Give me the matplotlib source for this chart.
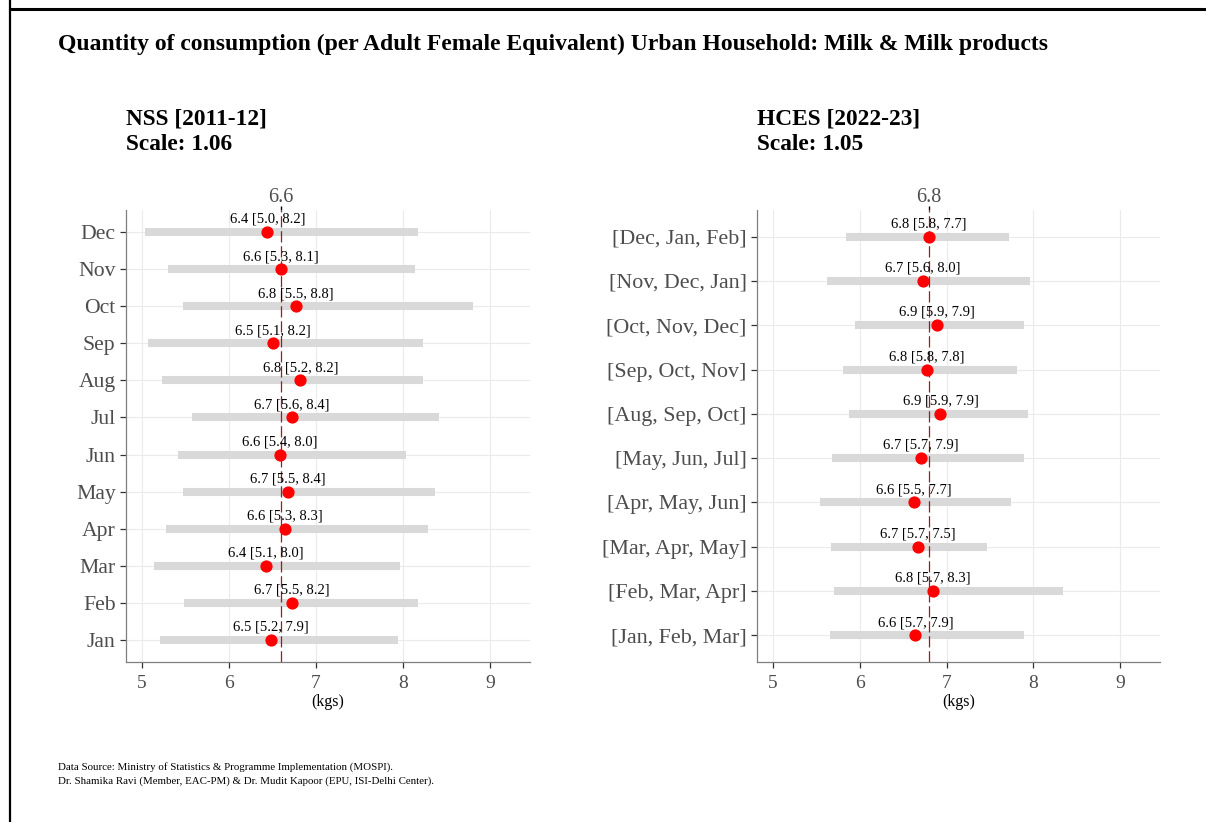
import numpy as np
import matplotlib.pyplot as plt
from matplotlib.lines import Line2D

plt.rcParams['font.family'] = ['Liberation Serif', 'DejaVu Serif']

# NSS 2011-12, monthly (bottom row first)
nss_months = ['Jan', 'Feb', 'Mar', 'Apr', 'May', 'Jun', 'Jul', 'Aug', 'Sep', 'Oct', 'Nov', 'Dec']
nss_mean = [6.48, 6.72, 6.42, 6.64, 6.68, 6.58, 6.72, 6.82, 6.50, 6.77, 6.60, 6.44]
nss_lo = [5.21, 5.48, 5.14, 5.27, 5.47, 5.41, 5.57, 5.23, 5.07, 5.47, 5.30, 5.03]
nss_hi = [7.94, 8.17, 7.96, 8.29, 8.37, 8.03, 8.41, 8.23, 8.23, 8.81, 8.14, 8.17]
nss_overall = 6.6

# HCES 2022-23, three-month windows (bottom row first)
hces_seasons = ['[Jan, Feb, Mar]', '[Feb, Mar, Apr]', '[Mar, Apr, May]', '[Apr, May, Jun]',
                '[May, Jun, Jul]', '[Aug, Sep, Oct]', '[Sep, Oct, Nov]', '[Oct, Nov, Dec]',
                '[Nov, Dec, Jan]', '[Dec, Jan, Feb]']
hces_mean = [6.64, 6.84, 6.67, 6.62, 6.70, 6.93, 6.77, 6.89, 6.73, 6.80]
hces_lo = [5.66, 5.70, 5.67, 5.54, 5.68, 5.87, 5.81, 5.94, 5.62, 5.84]
hces_hi = [7.89, 8.34, 7.47, 7.74, 7.89, 7.94, 7.81, 7.89, 7.96, 7.72]
hces_overall = 6.8

x_ticks = [5, 6, 7, 8, 9]


def draw_panel(ax, cats, mean, lo, hi, overall, ylabsize):
    y = np.arange(1, len(cats) + 1)
    ax.hlines(y, lo, hi, color='#D9D9D9', lw=5.8, capstyle='butt', zorder=2)
    ax.axvline(overall, color='#A51818', lw=0.9, ls=(0, (9, 3)), zorder=3)
    ax.plot(mean, y, 'o', color='red', ms=7.8, zorder=4)
    for m, l, h, yi in zip(mean, lo, hi, y):
        ax.annotate(f'{m:.1f} [{l:.1f}, {h:.1f}]', (m, yi), xytext=(0, 4.5),
                    textcoords='offset points', ha='center', va='bottom',
                    fontsize=10.5, color='black', zorder=5)

    ax.set_yticks(y, cats)
    ax.set_ylim(0.4, len(cats) + 0.6)
    ax.set_xlim(4.815, 9.46)
    ax.set_xticks(x_ticks)
    ax.grid(color='#EBEBEB', lw=0.8)
    ax.set_axisbelow(True)
    for side in ['top', 'right']:
        ax.spines[side].set_visible(False)
    for side in ['left', 'bottom']:
        ax.spines[side].set_color('#7F7F7F')
        ax.spines[side].set_linewidth(0.9)
    ax.tick_params(axis='both', colors='#333333', labelcolor='#4D4D4D',
                   labelsize=14, length=4, width=0.9)
    ax.tick_params(axis='x', pad=5)
    ax.tick_params(axis='y', labelsize=ylabsize)
    ax.set_xlabel('(kgs)', fontsize=11.5, labelpad=1.5)

    top = ax.secondary_xaxis('top')
    top.set_xticks([overall], [f'{overall}'])
    top.spines['top'].set_visible(False)
    top.tick_params(length=3, width=1, colors='black', labelcolor='#4D4D4D',
                    labelsize=14.5, pad=-1)


fig = plt.figure(figsize=(12.06, 8.22), dpi=100)

ax1 = fig.add_axes([126 / 1206, 160 / 822, 404 / 1206, 452 / 822])
draw_panel(ax1, nss_months, nss_mean, nss_lo, nss_hi, nss_overall, 15.6)

ax2 = fig.add_axes([757 / 1206, 160 / 822, 403 / 1206, 452 / 822])
draw_panel(ax2, hces_seasons, hces_mean, hces_lo, hces_hi, hces_overall, 15.8)

fig.text(58 / 1206, 1 - 50 / 822,
         'Quantity of consumption (per Adult Female Equivalent) Urban Household: Milk & Milk products',
         fontsize=17, fontweight='bold', va='baseline', ha='left')
fig.text(126 / 1206, 1 - 125 / 822, 'NSS [2011-12]', fontsize=16.8, fontweight='bold', va='baseline')
fig.text(126 / 1206, 1 - 150 / 822, 'Scale: 1.06', fontsize=16.8, fontweight='bold', va='baseline')
fig.text(757 / 1206, 1 - 125 / 822, 'HCES [2022-23]', fontsize=16.8, fontweight='bold', va='baseline')
fig.text(757 / 1206, 1 - 150 / 822, 'Scale: 1.05', fontsize=16.8, fontweight='bold', va='baseline')

fig.text(58 / 1206, 1 - 774 / 822,
         'Data Source: Ministry of Statistics & Programme Implementation (MOSPI).\n'
         'Dr. Shamika Ravi (Member, EAC-PM) & Dr. Mudit Kapoor (EPU, ISI-Delhi Center).',
         fontsize=7.8, va='center', ha='left', linespacing=1.7)

# page border
fig.add_artist(Line2D([10 / 1206, 1], [1 - 9 / 822, 1 - 9 / 822], color='black', lw=2.2,
                      transform=fig.transFigure))
fig.add_artist(Line2D([10 / 1206, 10 / 1206], [0, 1], color='black', lw=1.6,
                      transform=fig.transFigure))

fig.savefig('out.png', dpi=100)
